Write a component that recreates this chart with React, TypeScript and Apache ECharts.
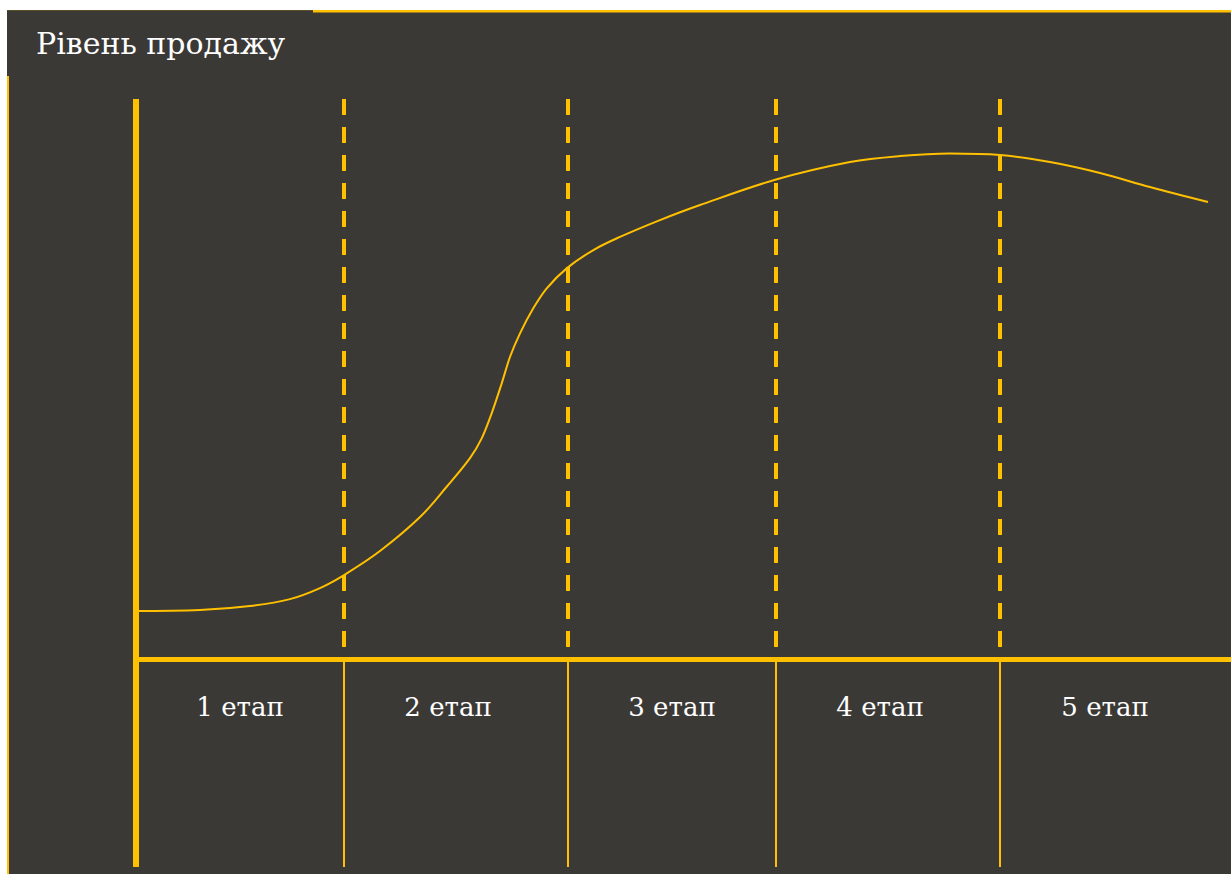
import React, { useEffect, useRef } from "react";
import * as echarts from "echarts";

const TITLE = "Рівень продажу";
const stageLabels = ["1 етап", "2 етап", "3 етап", "4 етап", "5 етап"];
const stageLabelX = [9.5, 28.5, 48.95, 67.95, 88.5];
const stageLabelY = -8.5;
const stageBounds = [19.0, 39.45, 58.45, 78.9];
const dashTop = 100;
const dashBottom = 2.2;
const belowBottom = -37;

const curveX = [-0.73, 5.84, 10.41, 14.06, 16.8, 19.0, 22.28, 25.94, 28.37, 30.5, 31.57, 32.48, 33.4, 34.16, 35.07, 36.28, 37.51, 39.33, 41.77, 44.2, 47.85, 51.51, 58.45, 65.21, 69.77, 74.34, 78.9, 83.47, 88.04, 92.6, 97.9];
const curveY = [8.65, 8.83, 9.54, 10.79, 12.76, 15.08, 19.36, 25.42, 30.83, 35.94, 39.46, 43.93, 49.28, 54.02, 58.2, 62.66, 66.23, 69.79, 73.06, 75.4, 78.4, 81.09, 85.64, 88.76, 89.83, 90.28, 90.01, 88.76, 86.8, 84.3, 81.62];

const YELLOW = "#FFC000";
const DARK = "#3B3936";
const FONT = "DejaVu Serif";

export default function App() {
  const ref = useRef<HTMLDivElement>(null);
  useEffect(() => {
    if (!ref.current) return;
    const chart = echarts.init(ref.current, undefined, { renderer: "svg" });
    chart.setOption({
      animation: false,
      backgroundColor: "transparent",
      grid: { left: 136, right: 0, top: 99, bottom: 7 },
      xAxis: {
        type: "value",
        min: 0,
        max: 100,
        axisLine: { show: true, onZero: true, lineStyle: { color: YELLOW, width: 5, cap: "butt" } },
        axisTick: { show: false },
        axisLabel: { show: false },
        splitLine: { show: false },
      },
      yAxis: {
        type: "value",
        min: belowBottom,
        max: 100,
        axisLine: { show: true, onZero: true, lineStyle: { color: YELLOW, width: 6, cap: "butt" } },
        axisTick: { show: false },
        axisLabel: { show: false },
        splitLine: { show: false },
      },
      graphic: [
        { type: "rect", shape: { x: 313, y: 10, width: 918, height: 2.5 }, style: { fill: YELLOW }, silent: true },
        { type: "rect", shape: { x: 7, y: 10, width: 306, height: 1 }, style: { fill: "#5a4d2c" }, silent: true },
        { type: "rect", shape: { x: 7, y: 76, width: 2, height: 798 }, style: { fill: YELLOW }, silent: true },
        {
          type: "text",
          x: 36,
          y: 43,
          style: { text: TITLE, fill: "#FFFFFF", fontFamily: FONT, fontSize: 30, verticalAlign: "middle", align: "left" },
          silent: true,
        },
      ],
      series: [
        {
          type: "line",
          data: curveX.map((x, i) => [x, curveY[i]]),
          smooth: 0.35,
          symbol: "none",
          clip: false,
          lineStyle: { color: YELLOW, width: 2 },
          z: 3,
          markLine: {
            silent: true,
            symbol: ["none", "none"],
            label: { show: false },
            lineStyle: { color: YELLOW, width: 4, type: [16, 12], cap: "butt" },
            data: [
              ...stageBounds.map((b) => [
                { coord: [b, dashTop] },
                { coord: [b, dashBottom] },
              ]),
              ...stageBounds.map((b) => [
                { coord: [b, 0], lineStyle: { type: "solid", width: 2 } },
                { coord: [b, belowBottom] },
              ]),
            ],
          },
        },
        {
          type: "scatter",
          symbolSize: 0,
          silent: true,
          itemStyle: { opacity: 1, color: "#FFFFFF" },
          data: stageLabels.map((n, i) => ({ name: n, value: [stageLabelX[i], stageLabelY] })),
          label: {
            show: true,
            position: "inside",
            formatter: (p: any) => p.name,
            color: "#FFFFFF",
            textBorderWidth: 0,
            textBorderColor: "transparent",
            fontFamily: FONT,
            fontSize: 26,
          },
        },
      ],
    });
    return () => chart.dispose();
  }, []);
  return (
    <div style={{ position: "fixed", left: 0, top: 0, width: 1231, height: 874, background: "#FFFFFF" }}>
      <div style={{ position: "absolute", left: 7, top: 10, width: 1224, height: 864, background: DARK }} />
      <div ref={ref} style={{ position: "absolute", left: 0, top: 0, width: 1231, height: 874 }} />
    </div>
  );
}
